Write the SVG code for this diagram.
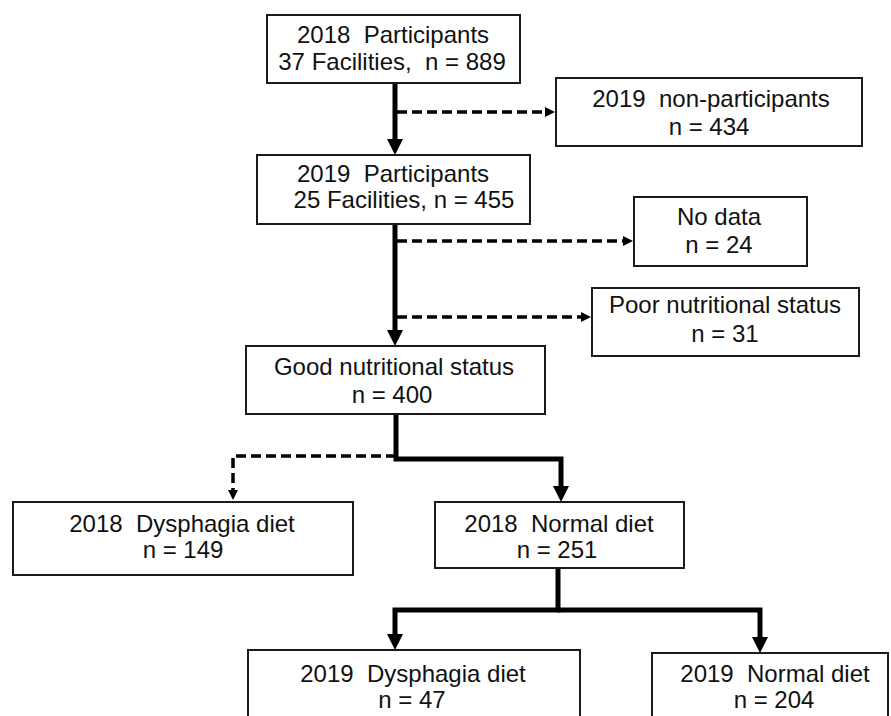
<svg xmlns="http://www.w3.org/2000/svg" width="891" height="716" viewBox="0 0 891 716">
<style>
.box{fill:#fff;stroke:#1a1a1a;stroke-width:2}
.t{font-family:"Liberation Sans",Arial,sans-serif;font-size:24px;fill:#111;text-anchor:middle;white-space:pre}
.thick{fill:none;stroke:#000;stroke-width:5}
.dash{fill:none;stroke:#000;stroke-width:3.5;stroke-dasharray:10 5}
</style>
<defs>
<marker id="ah" markerWidth="16" markerHeight="16" refX="0" refY="8" orient="auto" markerUnits="userSpaceOnUse"><path d="M0,0 L16,8 L0,16 z" fill="#000"/></marker>
<marker id="ahd" markerWidth="10" markerHeight="10" refX="0" refY="5" orient="auto" markerUnits="userSpaceOnUse"><path d="M0,0 L10,5 L0,10 z" fill="#000"/></marker>
</defs>
<rect width="891" height="716" fill="#fff"/>
<g id="connectors">
<path class="thick" d="M395,83 V139" marker-end="url(#ah)"/>
<path class="dash" d="M397,112 H545" marker-end="url(#ahd)"/>
<path class="thick" d="M395,224 V330" marker-end="url(#ah)"/>
<path class="dash" d="M397,241 H623" marker-end="url(#ahd)"/>
<path class="dash" d="M397,317 H581" marker-end="url(#ahd)"/>
<path class="dash" d="M396,456 H233 V490" marker-end="url(#ahd)"/>
<path class="thick" d="M396,414 V459 H561 V486" marker-end="url(#ah)"/>
<path class="thick" d="M558,568 V610 H395 V634" marker-end="url(#ah)"/>
<path class="thick" d="M558,610 H760 V637" marker-end="url(#ah)"/>
</g>
<g id="p2018">
<rect class="box" x="267" y="15" width="253" height="68"/>
<text class="t" x="393" y="43" xml:space="preserve">2018  Participants</text>
<text class="t" x="392" y="70" xml:space="preserve">37 Facilities,  n = 889</text>
</g>
<g id="nonpart">
<rect class="box" x="556" y="78" width="306" height="68"/>
<text class="t" x="711" y="107" xml:space="preserve">2019  non-participants</text>
<text class="t" x="709" y="135">n = 434</text>
</g>
<g id="p2019">
<rect class="box" x="257" y="155" width="273" height="69"/>
<text class="t" x="393" y="182" xml:space="preserve">2019  Participants</text>
<text class="t" x="404" y="208">25 Facilities, n = 455</text>
</g>
<g id="nodata">
<rect class="box" x="634" y="197" width="173" height="69"/>
<text class="t" x="719" y="225">No data</text>
<text class="t" x="719" y="253">n = 24</text>
</g>
<g id="poor">
<rect class="box" x="592" y="288" width="267" height="68"/>
<text class="t" x="725" y="313">Poor nutritional status</text>
<text class="t" x="725" y="342">n = 31</text>
</g>
<g id="good">
<rect class="box" x="246" y="346" width="299" height="68"/>
<text class="t" x="394" y="375">Good nutritional status</text>
<text class="t" x="392" y="403">n = 400</text>
</g>
<g id="dys2018">
<rect class="box" x="13" y="502" width="340" height="73"/>
<text class="t" x="182" y="532" xml:space="preserve">2018  Dysphagia diet</text>
<text class="t" x="183" y="558">n = 149</text>
</g>
<g id="norm2018">
<rect class="box" x="435" y="502" width="249" height="66"/>
<text class="t" x="559" y="532" xml:space="preserve">2018  Normal diet</text>
<text class="t" x="557" y="558">n = 251</text>
</g>
<g id="dys2019">
<rect class="box" x="248" y="650" width="332" height="75"/>
<text class="t" x="413" y="682" xml:space="preserve">2019  Dysphagia diet</text>
<text class="t" x="412" y="708">n = 47</text>
</g>
<g id="norm2019">
<rect class="box" x="652" y="653" width="236" height="72"/>
<text class="t" x="775" y="682" xml:space="preserve">2019  Normal diet</text>
<text class="t" x="774" y="708">n = 204</text>
</g>
</svg>
